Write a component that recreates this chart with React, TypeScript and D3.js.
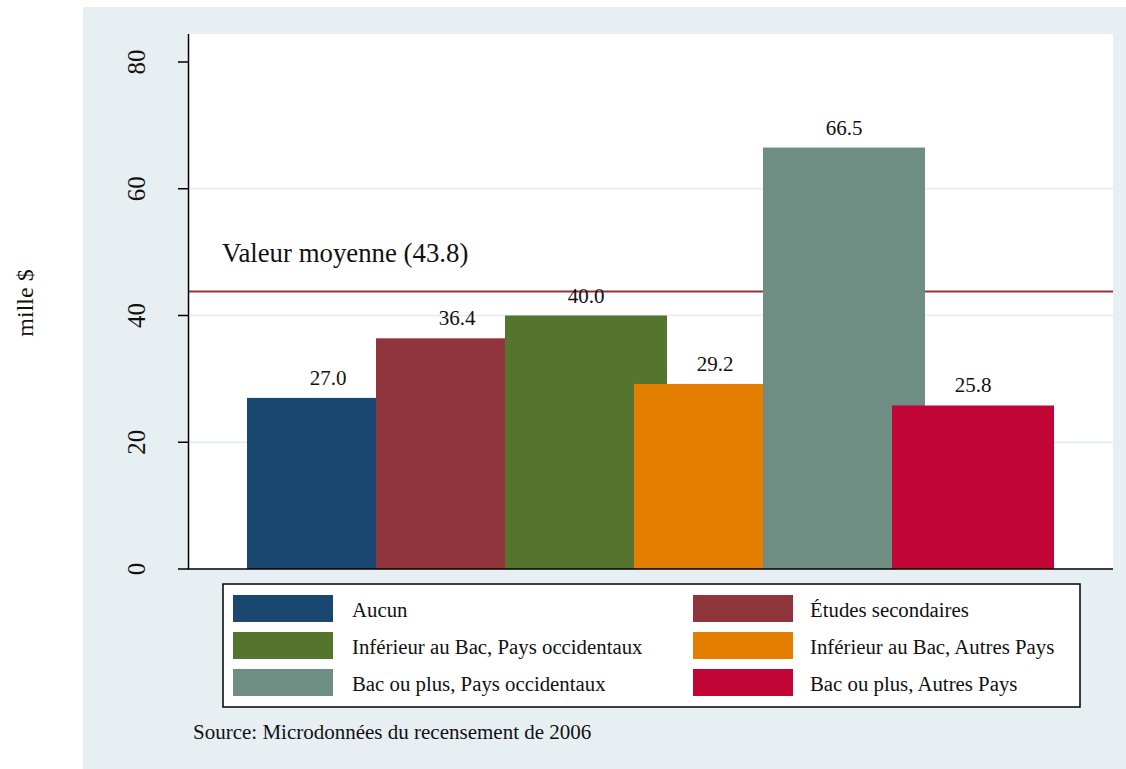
import React from "react";
import * as d3 from "d3";

const categories = [
  "Aucun",
  "Études secondaires",
  "Inférieur au Bac, Pays occidentaux",
  "Inférieur au Bac, Autres Pays",
  "Bac ou plus, Pays occidentaux",
  "Bac ou plus, Autres Pays",
];
const values = [27.0, 36.4, 40.0, 29.2, 66.5, 25.8];
const colors = ["#1a476f", "#90353b", "#55752f", "#e37e00", "#6e8e84", "#c10534"];
const yTicks = [0, 20, 40, 60, 80];
const gridTicks = [20, 40, 60];
const meanValue = 43.8;
const meanLabel = "Valeur moyenne (43.8)";
const yTitle = "mille $";
const sourceNote = "Source: Microdonnées du recensement de 2006";

const W = 1126;
const H = 769;
const FONT = '"Liberation Serif", "Times New Roman", Times, "DejaVu Serif", serif';

export default function App() {
  const plot = { left: 188.5, right: 1113, top: 34, bottom: 569 };
  const y = d3.scaleLinear().domain([0, 80]).range([plot.bottom, 62]);
  const x = d3.scaleLinear().domain([0, 6]).range([247, 247 + 129 * 6]);
  const barW = x(1.256) - x(0);
  const ts = { fontFamily: FONT };

  return (
    <svg
      width={W}
      height={H}
      style={{ position: "absolute", left: 0, top: 0, background: "#ffffff", fontFamily: FONT }}
    >
      <rect x={83} y={7} width={W - 83} height={H - 7} fill="#e8eff2" />
      <rect
        x={plot.left}
        y={plot.top}
        width={plot.right - plot.left}
        height={plot.bottom - plot.top}
        fill="#ffffff"
      />
      {gridTicks.map((t) => (
        <line
          key={t}
          x1={plot.left}
          x2={plot.right}
          y1={y(t)}
          y2={y(t)}
          stroke="#e8eff2"
          strokeWidth={2}
        />
      ))}
      <line
        x1={plot.left}
        x2={plot.right}
        y1={y(meanValue)}
        y2={y(meanValue)}
        stroke="#90353b"
        strokeWidth={2}
      />
      <text x={222} y={262} fontSize={26.8} fill="#111" style={ts}>
        {meanLabel}
      </text>
      {values.map((v, i) => (
        <rect
          key={i}
          x={x(i)}
          y={y(v)}
          width={barW}
          height={y(0) - y(v)}
          fill={colors[i]}
        />
      ))}
      {values.map((v, i) => (
        <text
          key={"l" + i}
          x={x(i) + barW / 2}
          y={y(v) - 13}
          fontSize={21}
          textAnchor="middle"
          fill="#111"
          style={ts}
        >
          {v.toFixed(1)}
        </text>
      ))}
      <line x1={plot.left} x2={plot.left} y1={plot.top} y2={plot.bottom} stroke="#000" strokeWidth={1.5} />
      <line x1={plot.left - 0.75} x2={plot.right} y1={plot.bottom} y2={plot.bottom} stroke="#000" strokeWidth={1.5} />
      {yTicks.map((t) => (
        <g key={t}>
          <line x1={178} x2={plot.left} y1={y(t)} y2={y(t)} stroke="#000" strokeWidth={1.5} />
          <text
            transform={`translate(${145},${y(t)}) rotate(-90)`}
            fontSize={25}
            textAnchor="middle"
            fill="#111"
            style={ts}
          >
            {t}
          </text>
        </g>
      ))}
      <text
        transform={`translate(${33},${303}) rotate(-90)`}
        fontSize={24}
        textAnchor="middle"
        fill="#111"
        style={ts}
      >
        {yTitle}
      </text>
      <rect x={223} y={584} width={857} height={123} fill="#fff" stroke="#000" strokeWidth={1.5} />
      {categories.map((c, i) => {
        const col = i % 2;
        const row = Math.floor(i / 2);
        const kx = col === 0 ? 233 : 693;
        const tx = col === 0 ? 352 : 810;
        const ky = 595 + row * 37;
        return (
          <g key={c}>
            <rect x={kx} y={ky} width={100} height={27} fill={colors[i]} />
            <text x={tx} y={ky + 22} fontSize={20.8} fill="#111" style={ts}>
              {c}
            </text>
          </g>
        );
      })}
      <text x={193} y={739} fontSize={21} fill="#111" style={ts}>
        {sourceNote}
      </text>
    </svg>
  );
}
